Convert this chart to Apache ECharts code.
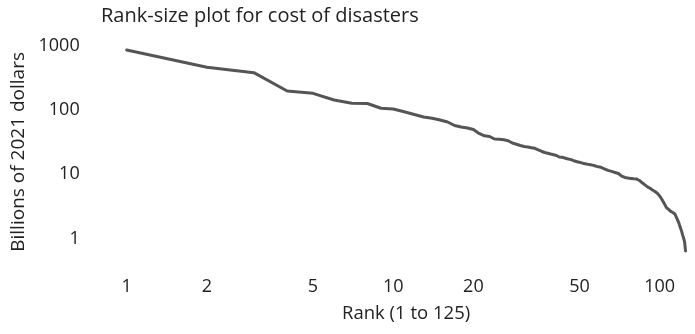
<!DOCTYPE html>
<html>
<head>
<meta charset="utf-8">
<script src="https://cdn.jsdelivr.net/npm/echarts@6/dist/echarts.min.js"></script>
<style>
html,body{margin:0;padding:0;background:#fff;}
#chart{width:695px;height:334px;}
</style>
</head>
<body>
<div id="chart"></div>
<script>
// Cost of each disaster (billions of 2021 dollars), ordered by rank 1..125
const costs = [
  866, 466, 384, 199, 183, 144, 128, 127, 107, 104,
  94.3, 85.6, 78.3, 74.7, 70.3, 65.4, 57.7, 54.6, 52.7, 49.9,
  43.3, 39.8, 38.9, 35.5, 35.2, 34.6, 33.4, 30.8, 29.4, 28.1,
  27.1, 26.7, 26.0, 25.4, 24.1, 22.9, 21.9, 21.3, 20.7, 20.2,
  19.7, 18.6, 18.4, 18.0, 17.5, 17.1, 16.7, 16.1, 15.7, 15.4,
  15.1, 14.7, 14.5, 14.3, 14.1, 13.9, 13.6, 13.3, 13.1, 12.9,
  12.5, 12.2, 11.8, 11.5, 11.3, 11.1, 11.0, 10.7, 10.5, 10.3,
  9.8, 9.35, 8.99, 8.93, 8.83, 8.77, 8.70, 8.64, 8.58, 8.52,
  8.46, 8.43, 8.37, 8.01, 7.65, 7.38, 7.09, 6.84, 6.60, 6.37,
  6.17, 6.06, 5.87, 5.70, 5.56, 5.40, 5.25, 5.06, 4.82, 4.60,
  4.39, 4.05, 3.77, 3.51, 3.27, 3.03, 2.90, 2.83, 2.73, 2.65,
  2.62, 2.54, 2.47, 2.41, 2.26, 2.06, 1.90, 1.75, 1.57, 1.42,
  1.28, 1.13, 1.01, 0.895, 0.64
];
const xTickValues = [1, 2, 5, 10, 20, 50, 100];
const yTickValues = [1, 10, 100, 1000];
const titleText = 'Rank-size plot for cost of disasters';
const xAxisName = 'Rank (1 to 125)';
const yAxisName = 'Billions of 2021 dollars';

const seriesData = costs.map((v, i) => [i + 1, v]);

const FONT = '"Open Sans", "Noto Sans", sans-serif';
const TXT = '#222';

const chart = echarts.init(document.getElementById('chart'), null, {renderer: 'canvas'});
chart.setOption({
  animation: false,
  backgroundColor: '#fff',
  title: {
    text: titleText,
    left: 96,
    top: 1,
    textStyle: {fontFamily: FONT, fontSize: 20, fontWeight: 'normal', color: TXT}
  },
  grid: {left: 126.7, right: 9.5, top: 46, bottom: 76.2, containLabel: false},
  xAxis: {
    type: 'log',
    logBase: 10,
    min: 1,
    max: 125,
    name: xAxisName,
    nameLocation: 'middle',
    nameGap: 46,
    nameTextStyle: {fontFamily: FONT, fontSize: 18.5, color: TXT},
    axisLine: {show: false},
    axisTick: {show: false},
    splitLine: {show: false},
    minorTick: {show: false},
    axisLabel: {
      customValues: xTickValues,
      margin: 20,
      fontFamily: FONT, fontSize: 18, color: TXT,
      formatter: v => String(Math.round(v))
    }
  },
  yAxis: {
    type: 'log',
    logBase: 10,
    min: 0.5,
    max: 1000,
    name: yAxisName,
    nameLocation: 'middle',
    nameGap: 96,
    nameTextStyle: {fontFamily: FONT, fontSize: 19, color: TXT},
    axisLine: {show: false},
    axisTick: {show: false},
    splitLine: {show: false},
    axisLabel: {
      customValues: yTickValues,
      margin: 47,
      fontFamily: FONT, fontSize: 18, color: TXT,
      formatter: v => String(Math.round(v))
    }
  },
  series: [{
    type: 'line',
    data: seriesData,
    showSymbol: false,
    symbol: 'none',
    clip: false,
    lineStyle: {color: '#555', width: 3, join: 'round', cap: 'round'}
  }]
});
</script>
</body>
</html>
